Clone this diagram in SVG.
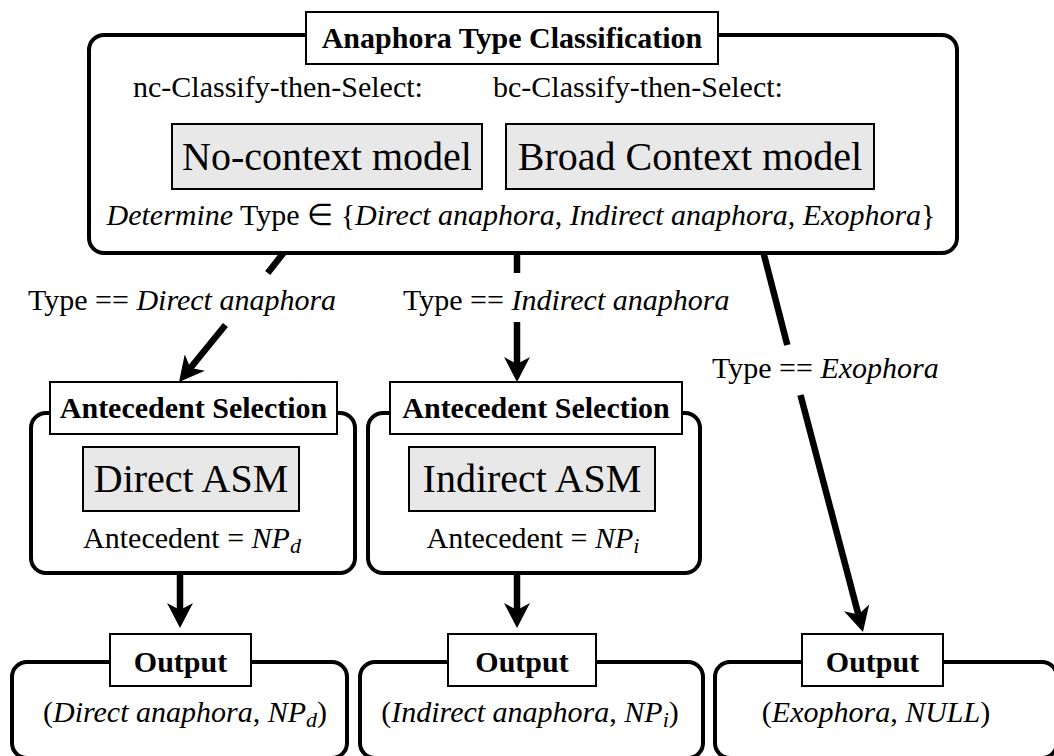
<svg xmlns="http://www.w3.org/2000/svg" width="1054" height="756" viewBox="0 0 1054 756">
  <style>
    text { font-family: "Liberation Serif", "Times New Roman", serif; fill: #000; }
    .frame { fill: #fff; stroke: #000; stroke-width: 4; }
    .tag { fill: #fff; stroke: #000; stroke-width: 2; }
    .model { fill: #e8e8e8; stroke: #000; stroke-width: 2; }
    .tagtxt { font-size: 30px; font-weight: bold; text-anchor: middle; }
    .big { font-size: 40px; text-anchor: middle; }
    .txt { font-size: 30px; }
    .mid { text-anchor: middle; }
    .edge { stroke: #000; stroke-width: 6.5; fill: none; }
    .arrow { marker-end: url(#head); }
  </style>
  <defs>
    <marker id="head" markerUnits="userSpaceOnUse" viewBox="0 0 25 26" refX="7" refY="13" markerWidth="25" markerHeight="26" orient="auto">
      <path d="M0,0 L25,13 L0,26 L7,13 Z" fill="#000"/>
    </marker>
  </defs>

  <rect width="1054" height="756" fill="#fff"/>

  <!-- connectors -->
  <g id="connectors">
    <line class="edge" x1="285" y1="251" x2="267.7" y2="273"/>
    <line class="edge arrow" x1="225.4" y1="325" x2="190.4" y2="368"/>
    <line class="edge" x1="517" y1="251" x2="517" y2="273"/>
    <line class="edge arrow" x1="517" y1="322" x2="517" y2="364"/>
    <line class="edge" x1="763" y1="251" x2="787.3" y2="345"/>
    <line class="edge arrow" x1="800.5" y1="395" x2="858.4" y2="614.6"/>
    <line class="edge arrow" x1="180" y1="573" x2="180" y2="610"/>
    <line class="edge arrow" x1="517" y1="573" x2="517" y2="610"/>
    <text class="txt" x="28" y="310">Type == <tspan font-style="italic">Direct anaphora</tspan></text>
    <text class="txt" x="403" y="310">Type == <tspan font-style="italic">Indirect anaphora</tspan></text>
    <text class="txt" x="712" y="378">Type == <tspan font-style="italic">Exophora</tspan></text>
  </g>

  <!-- type classification stage -->
  <g id="classification">
    <rect class="frame" x="89" y="35" width="868" height="218" rx="15"/>
    <rect class="tag" x="306" y="12" width="412" height="52"/>
    <text class="tagtxt" x="512" y="48">Anaphora Type Classification</text>
    <text class="txt" x="133" y="97">nc-Classify-then-Select:</text>
    <text class="txt" x="493" y="97">bc-Classify-then-Select:</text>
    <rect class="model" x="172" y="124" width="310" height="65"/>
    <text class="big" x="327" y="170">No-context model</text>
    <rect class="model" x="506" y="124" width="368" height="65"/>
    <text class="big" x="690" y="170">Broad Context model</text>
    <text class="txt mid" x="521" y="225"><tspan font-style="italic">Determine</tspan> Type ∈ {<tspan font-style="italic">Direct anaphora</tspan>, <tspan font-style="italic">Indirect anaphora</tspan>, <tspan font-style="italic">Exophora</tspan>}</text>
  </g>

  <!-- direct antecedent selection -->
  <g id="select-direct">
    <rect class="frame" x="31" y="413" width="324" height="160" rx="15"/>
    <rect class="tag" x="50" y="382" width="287" height="52"/>
    <text class="tagtxt" x="193.5" y="418">Antecedent Selection</text>
    <rect class="model" x="83" y="447" width="216" height="64"/>
    <text class="big" x="191" y="492">Direct ASM</text>
    <text class="txt mid" x="192" y="548">Antecedent = <tspan font-style="italic">NP</tspan><tspan font-style="italic" font-size="22" dy="5">d</tspan></text>
  </g>

  <!-- indirect antecedent selection -->
  <g id="select-indirect">
    <rect class="frame" x="368" y="413" width="332" height="160" rx="15"/>
    <rect class="tag" x="390" y="382" width="292" height="52"/>
    <text class="tagtxt" x="536" y="418">Antecedent Selection</text>
    <rect class="model" x="409" y="447" width="246" height="64"/>
    <text class="big" x="532" y="492">Indirect ASM</text>
    <text class="txt mid" x="533" y="548">Antecedent = <tspan font-style="italic">NP</tspan><tspan font-style="italic" font-size="22" dy="5">i</tspan></text>
  </g>

  <!-- outputs -->
  <g id="output-direct">
    <rect class="frame" x="12" y="662" width="335" height="96" rx="15"/>
    <rect class="tag" x="110" y="634" width="141" height="52"/>
    <text class="tagtxt" x="180.5" y="672">Output</text>
    <text class="txt mid" x="185" y="722">(<tspan font-style="italic">Direct anaphora</tspan>, <tspan font-style="italic">NP</tspan><tspan font-style="italic" font-size="22" dy="5">d</tspan><tspan dy="-5">)</tspan></text>
  </g>
  <g id="output-indirect">
    <rect class="frame" x="360" y="662" width="343" height="96" rx="15"/>
    <rect class="tag" x="448" y="634" width="148" height="52"/>
    <text class="tagtxt" x="522" y="672">Output</text>
    <text class="txt mid" x="530" y="722">(<tspan font-style="italic">Indirect anaphora</tspan>, <tspan font-style="italic">NP</tspan><tspan font-style="italic" font-size="22" dy="5">i</tspan><tspan dy="-5">)</tspan></text>
  </g>
  <g id="output-exophora">
    <rect class="frame" x="715" y="662" width="342" height="96" rx="15"/>
    <rect class="tag" x="802" y="634" width="141" height="52"/>
    <text class="tagtxt" x="872.5" y="672">Output</text>
    <text class="txt mid" x="876" y="722">(<tspan font-style="italic">Exophora</tspan>, <tspan font-style="italic">NULL</tspan>)</text>
  </g>
</svg>
